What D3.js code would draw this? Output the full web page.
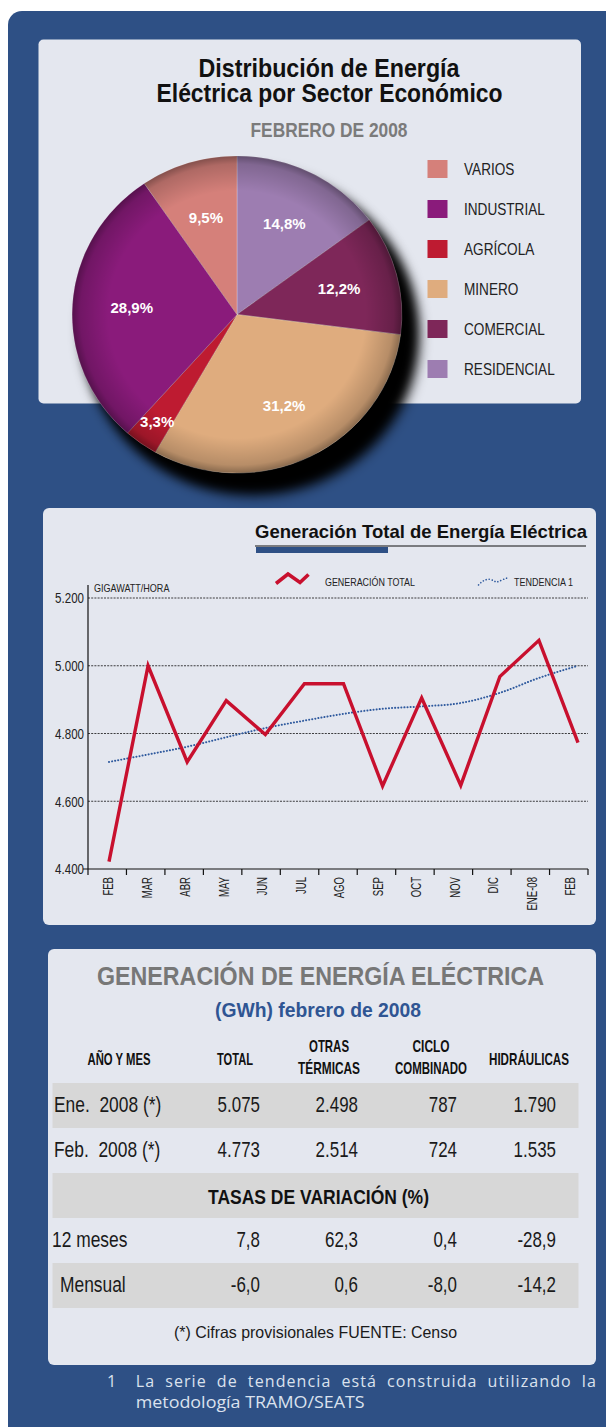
<!DOCTYPE html>
<html><head><meta charset="utf-8">
<script src="https://cdn.jsdelivr.net/npm/d3@7"></script>
<style>
html,body{margin:0;padding:0;background:#fff;}
svg{display:block;}
</style></head><body>
<svg id="c" width="606" height="1427"></svg>
<script>
// ---------------- DATA ----------------
const pieCategories = ["RESIDENCIAL","COMERCIAL","MINERO","AGRÍCOLA","INDUSTRIAL","VARIOS"];
const pieValues = [14.8, 12.2, 31.2, 3.3, 28.9, 9.5];
const pieLabels = ["14,8%","12,2%","31,2%","3,3%","28,9%","9,5%"];
const pieColors = ["#9d7db1","#7e2759","#dfac7e","#be1b31","#8a1b7b","#d5807a"];
const legendOrder = ["VARIOS","INDUSTRIAL","AGRÍCOLA","MINERO","COMERCIAL","RESIDENCIAL"];

const months = ["FEB","MAR","ABR","MAY","JUN","JUL","AGO","SEP","OCT","NOV","DIC","ENE-08","FEB"];
const generacionTotal = [4422, 5000, 4716, 4897, 4797, 4947, 4947, 4645, 4905, 4647, 4968, 5075, 4773];
const tendencia = [4716, 4738, 4761, 4789, 4816, 4838, 4858, 4873, 4880, 4890, 4920, 4964, 5000];
const yTicks = [4400, 4600, 4800, 5000, 5200];
const yTickLabels = ["4.400","4.600","4.800","5.000","5.200"];

const tableHeaders = [["AÑO Y MES"],["TOTAL"],["OTRAS","TÉRMICAS"],["CICLO","COMBINADO"],["HIDRÁULICAS"]];
const levelLabels = ["Ene.  2008 (*)","Feb.  2008 (*)"];
const levelValues = [["5.075","2.498","787","1.790"],["4.773","2.514","724","1.535"]];
const variationLabels = ["12 meses","Mensual"];
const variationValues = [["7,8","62,3","0,4","-28,9"],["-6,0","0,6","-8,0","-14,2"]];

// ---------------- STYLE ----------------
const SANS = "'Liberation Sans',Arial,sans-serif";
const HUMAN = "'Open Sans','Noto Sans',sans-serif";
const BLUE = "#2e5085", PANEL = "#e4e7ef";

const svg = d3.select("#c");
const defs = svg.append("defs");

function fitText(sel, len){ sel.attr("textLength",len).attr("lengthAdjust","spacingAndGlyphs"); return sel; }
function narrow(sel, f){
  sel.each(function(){
    const L = this.getComputedTextLength();
    d3.select(this).attr("textLength", L*f).attr("lengthAdjust","spacingAndGlyphs");
  });
  return sel;
}
function txt(x, y, s, size, opts={}){
  const t = svg.append("text").attr("x",x).attr("y",y)
    .attr("text-anchor", opts.anchor || "start")
    .style("font-family", opts.family || SANS)
    .style("font-weight", opts.bold ? "bold" : "normal")
    .style("font-size", size+"px")
    .style("white-space","pre")
    .attr("fill", opts.fill || "#1a1a1a").text(s);
  if (opts.w) fitText(t, opts.w); else if (opts.f) narrow(t, opts.f);
  return t;
}

// background
svg.append("rect").attr("x",8).attr("y",11).attr("width",640).attr("height",1460).attr("rx",14).attr("fill",BLUE);

// panels
svg.append("rect").attr("x",38.5).attr("y",39.5).attr("width",542.5).attr("height",364).attr("rx",5).attr("fill",PANEL);
svg.append("rect").attr("x",43).attr("y",508).attr("width",553).attr("height",417).attr("rx",6).attr("fill",PANEL);
svg.append("rect").attr("x",48).attr("y",949).attr("width",548).attr("height",416).attr("rx",6).attr("fill",PANEL);

// ---------------- PIE ----------------
const title = svg.append("text").attr("text-anchor","middle")
  .style("font-family",SANS).style("font-weight","bold").style("font-size","26px").attr("fill","#111");
title.append("tspan").attr("x",329).attr("y",77).text("Distribución de Energía").call(fitText,261);
title.append("tspan").attr("x",329.5).attr("y",102).text("Eléctrica por Sector Económico").call(fitText,346);
txt(329, 137, "FEBRERO DE 2008", 19.5, {anchor:"middle", bold:true, fill:"#7b7b7b", w:157});

const cx = 237, cy = 314.5, R = 158.5, sx = 1.04;
const blur = defs.append("filter").attr("id","sh").attr("x","-30%").attr("y","-30%").attr("width","160%").attr("height","160%");
blur.append("feGaussianBlur").attr("stdDeviation",6.5);
const rim = defs.append("radialGradient").attr("id","rim");
rim.append("stop").attr("offset","0.78").attr("stop-color","#000").attr("stop-opacity",0);
rim.append("stop").attr("offset","0.95").attr("stop-color","#000").attr("stop-opacity",0.18);
rim.append("stop").attr("offset","1").attr("stop-color","#000").attr("stop-opacity",0.38);

svg.append("ellipse").attr("cx",cx+17).attr("cy",cy+22).attr("rx",R*sx).attr("ry",R)
  .attr("fill","#000").attr("filter","url(#sh)");
svg.append("ellipse").attr("cx",cx+10).attr("cy",cy+14).attr("rx",R*sx).attr("ry",R)
  .attr("fill","#000").attr("filter","url(#sh)");

const pg = svg.append("g").attr("transform",`translate(${cx},${cy}) scale(${sx},1)`);
const arcs = d3.pie().sort(null).value(d=>d)(pieValues);
const arc = d3.arc().innerRadius(0).outerRadius(R);
pg.selectAll("path.sl").data(arcs).join("path").attr("class","sl")
  .attr("d",arc).attr("fill",(d,i)=>pieColors[i])
  .attr("stroke","rgba(255,255,255,0.35)").attr("stroke-width",0.7);
pg.append("circle").attr("r",R).attr("fill","url(#rim)");

const lg = svg.append("g").attr("transform",`translate(${cx},${cy})`);
lg.selectAll("text").data(arcs).join("text")
  .attr("transform",d=>{
    const rr = d.data < 5 ? R*0.83 : R*0.64;
    const c = d3.arc().innerRadius(rr).outerRadius(rr).centroid(d);
    return `translate(${c[0]*sx},${c[1]})`;
  })
  .attr("text-anchor","middle").attr("dy","0.36em")
  .style("font-family",SANS).style("font-weight","bold").style("font-size","15px").attr("fill","#fff")
  .text((d,i)=>pieLabels[i]);

// legend
legendOrder.forEach((name,k)=>{
  const i = pieCategories.indexOf(name);
  svg.append("rect").attr("x",427.5).attr("y",160+k*40).attr("width",20).attr("height",18).attr("fill",pieColors[i]);
  txt(464, 174.5+k*40, name, 17, {fill:"#222", f:0.8});
});

// ---------------- LINE CHART ----------------
txt(587, 538, "Generación Total de Energía Eléctrica", 18.5, {anchor:"end", bold:true, fill:"#111", w:332});
svg.append("line").attr("x1",255).attr("x2",586).attr("y1",546).attr("y2",546).attr("stroke","#111").attr("stroke-width",1);
svg.append("rect").attr("x",256).attr("y",547).attr("width",132).attr("height",6).attr("fill",BLUE);

const x0 = 88, x1 = 588;
const xb = d3.scaleBand().domain(d3.range(months.length)).range([x0,x1]);
const xp = d3.scalePoint().domain(d3.range(months.length)).range([109,578]);
const y = d3.scaleLinear().domain([4400,5200]).range([869,598]);

// grid
svg.append("g").selectAll("line").data(yTicks.slice(1)).join("line")
  .attr("x1",x0).attr("x2",x1).attr("y1",d=>y(d)).attr("y2",d=>y(d))
  .attr("stroke","#111").attr("stroke-width",0.8).attr("stroke-dasharray","2,1.2");

// y labels
const yl = svg.append("g").selectAll("text").data(yTicks).join("text")
  .attr("x",84).attr("y",d=>y(d)).attr("dy","0.36em").attr("text-anchor","end")
  .style("font-family",SANS).style("font-size","15px").attr("fill","#222")
  .text((d,i)=>yTickLabels[i]);
narrow(yl, 0.77);

// axes lines
svg.append("line").attr("x1",x0).attr("x2",x0).attr("y1",585).attr("y2",869).attr("stroke","#111").attr("stroke-width",1.2);
svg.append("line").attr("x1",83).attr("x2",x1).attr("y1",869).attr("y2",869).attr("stroke","#111").attr("stroke-width",1.2);
svg.append("g").selectAll("line").data(d3.range(months.length+1)).join("line")
  .attr("x1",i=> i<months.length ? xb(i) : x1).attr("x2",i=> i<months.length ? xb(i) : x1)
  .attr("y1",869).attr("y2",875).attr("stroke","#111").attr("stroke-width",1.2);

const xAxis = svg.append("g").attr("transform","translate(0,869)")
  .call(d3.axisBottom(xb).tickSize(0).tickFormat(i=>months[i]));
xAxis.select(".domain").remove();
const xl = xAxis.selectAll("text")
  .attr("transform","rotate(-90)").attr("x",-8).attr("y",1).attr("dy","0.36em")
  .attr("text-anchor","end")
  .style("font-family",SANS).style("font-size","14.5px").attr("fill","#222");
narrow(xl, 0.66);

// lines
const trendLine = d3.line().x((d,i)=>xp(i)).y(d=>y(d)).curve(d3.curveMonotoneX);
svg.append("path").datum(tendencia).attr("d",trendLine).attr("fill","none")
  .attr("stroke","#2f5a9e").attr("stroke-width",2).attr("stroke-dasharray","0.1,3").attr("stroke-linecap","round");
const genLine = d3.line().x((d,i)=>xp(i)).y(d=>y(d));
svg.append("path").datum(generacionTotal).attr("d",genLine).attr("fill","none")
  .attr("stroke","#c8102e").attr("stroke-width",3.4).attr("stroke-linejoin","miter");

// legend
txt(94, 592, "GIGAWATT/HORA", 10.5, {fill:"#222", f:0.86});
svg.append("path").attr("d","M276,583.5L288,574L300,582.5L308.5,574.5").attr("fill","none")
  .attr("stroke","#c8102e").attr("stroke-width",3.6);
txt(325, 585.5, "GENERACIÓN TOTAL", 10.5, {fill:"#222", w:90});
svg.append("path").attr("d","M478.5,585C483,580 487,579 490,579.3C493,580 495,582 497,582C500,581 504,579 507,578")
  .attr("fill","none").attr("stroke","#2f5a9e").attr("stroke-width",1.6).attr("stroke-dasharray","0.1,3").attr("stroke-linecap","round");
txt(514, 585.5, "TENDENCIA 1", 10.5, {fill:"#222", w:59});

// ---------------- TABLE ----------------
txt(320.5, 985, "GENERACIÓN DE ENERGÍA ELÉCTRICA", 25.5, {anchor:"middle", bold:true, fill:"#777", w:447});
txt(318, 1017, "(GWh) febrero de 2008", 19.5, {anchor:"middle", bold:true, fill:"#2f5593", w:206});

const headerX = [119, 235, 329, 431, 529];
const headerW = [[63],[36],[40,62],[37,72],[80]];
tableHeaders.forEach((lines,c)=>{
  lines.forEach((t,l)=>{
    const yy = lines.length===1 ? 1065 : (l===0 ? 1052 : 1074);
    txt(headerX[c], yy, t, 17, {anchor:"middle", bold:true, fill:"#111", w:headerW[c][l]});
  });
});

const rowTop = [1083, 1128, 1173, 1218, 1263], rowH = 45;
[0,2,4].forEach(r=>{
  svg.append("rect").attr("x",52.5).attr("y",rowTop[r]).attr("width",526).attr("height",rowH).attr("fill","#d7d7d7");
});
const valX = [260, 358, 457, 556];
function rowText(r, label, lx, vals){
  const by = rowTop[r] + 29;
  txt(lx, by, label, 22, {f:0.79});
  const g = svg.append("g").selectAll("text").data(vals).join("text")
    .attr("x",(d,i)=>valX[i]).attr("y",by).attr("text-anchor","end")
    .style("font-family",SANS).style("font-size","22px").attr("fill","#1a1a1a").text(d=>d);
  narrow(g, 0.77);
}
rowText(0, levelLabels[0], 54, levelValues[0]);
rowText(1, levelLabels[1], 54, levelValues[1]);
txt(318.5, rowTop[2]+31, "TASAS DE VARIACIÓN (%)", 21, {anchor:"middle", bold:true, fill:"#111", w:221});
rowText(3, variationLabels[0], 52, variationValues[0]);
rowText(4, variationLabels[1], 60, variationValues[1]);

txt(315.5, 1338, "(*) Cifras provisionales FUENTE: Censo", 16.5, {anchor:"middle", fill:"#1a1a1a", w:283});

// footer note (justified first line)
const FOOT = "#dbe2ee";
svg.append("text").attr("x",107).attr("y",1387)
  .style("font-family",HUMAN).style("font-size","16px").attr("fill",FOOT).text("1");
const words = "La serie de tendencia está construida utilizando la".split(" ");
const ft = svg.append("g").style("font-family",HUMAN).style("font-size","16px")
  .style("letter-spacing","1.1px").attr("fill",FOOT);
const wsel = ft.selectAll("text").data(words).join("text").attr("y",1387).text(d=>d);
const ww = []; wsel.each(function(){ ww.push(this.getComputedTextLength()); });
const startX = 135.7, endX = 597;
const gap = (endX - startX - d3.sum(ww)) / (words.length-1);
let cur = startX;
wsel.attr("x",(d,i)=>{ const v = cur; cur += ww[i] + gap; return v; });
svg.append("text").attr("x",startX).attr("y",1408)
  .style("font-family",HUMAN).style("font-size","16px").attr("fill",FOOT)
  .text("metodología TRAMO/SEATS").attr("textLength",229).attr("lengthAdjust","spacingAndGlyphs");
</script>
</body></html>
